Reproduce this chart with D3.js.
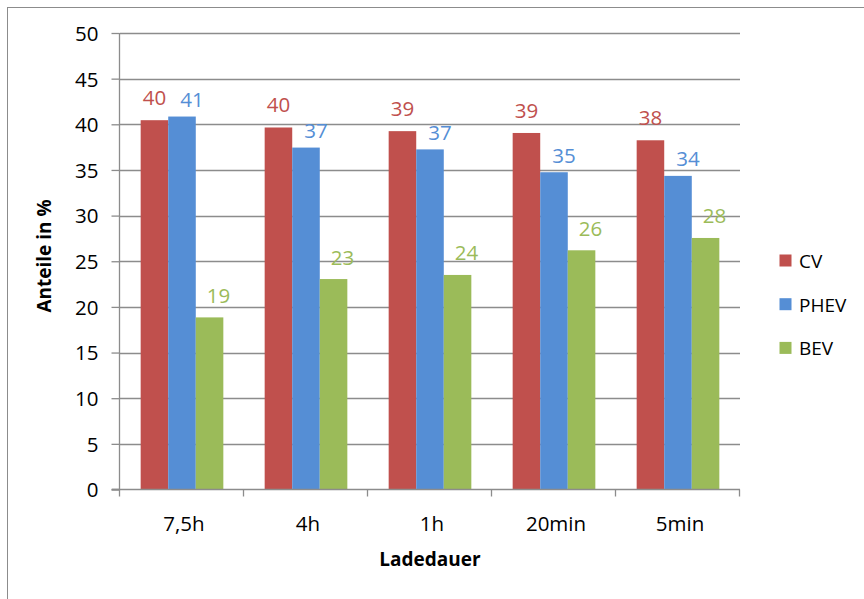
<!DOCTYPE html>
<html><head><meta charset="utf-8">
<script src="https://cdn.jsdelivr.net/npm/d3@7"></script>
<style>body{margin:0;background:#fff;} svg{display:block;font-family:"Open Sans",sans-serif;}</style>
</head><body>
<svg id="chart" width="864" height="599"></svg>
<script>
const categories = ["7,5h", "4h", "1h", "20min", "5min"];
const seriesNames = ["CV", "PHEV", "BEV"];
const cvValues   = [40.45, 39.65, 39.25, 39.05, 38.25];
const phevValues = [40.85, 37.45, 37.25, 34.75, 34.35];
const bevValues  = [18.85, 23.05, 23.5, 26.2, 27.55];
const yTicks = [0, 5, 10, 15, 20, 25, 30, 35, 40, 45, 50];
const colors = ["#C0504D", "#558ED5", "#9BBB59"];
const labelDx = [0, 10, 9];
const labelDy = [15, 9.5, 14.5];

const series = [cvValues, phevValues, bevValues];
const svg = d3.select("#chart");
const m = {left: 120, right: 740, top: 33, bottom: 489.5};

// outer frame
svg.append("rect").attr("x", 7.5).attr("y", 7.5).attr("width", 900).attr("height", 700)
  .attr("fill", "none").attr("stroke", "#8c8c8c").attr("stroke-width", 1);

const x = d3.scaleBand().domain(categories).range([m.left, m.right]).paddingInner(0).paddingOuter(0);
const y = d3.scaleLinear().domain([0, 50]).range([m.bottom, m.top]);

// gridlines
svg.append("g").selectAll("line").data(yTicks.filter(t => t > 0)).join("line")
  .attr("x1", m.left).attr("x2", m.right)
  .attr("y1", d => Math.round(y(d)) + 0.5).attr("y2", d => Math.round(y(d)) + 0.5)
  .attr("stroke", "#8c8c8c").attr("stroke-width", 1.3);

// bars
const bw = x.bandwidth() / 4.5;
const sub = d3.scaleBand().domain(d3.range(3)).range([0.75 * bw, 3.75 * bw]);
const groups = svg.append("g");
series.forEach((vals, si) => {
  groups.append("g").selectAll("rect").data(vals).join("rect")
    .attr("x", (d, i) => x(categories[i]) + sub(si))
    .attr("width", sub.bandwidth())
    .attr("y", d => y(d))
    .attr("height", d => y(0) - y(d))
    .attr("fill", colors[si]);
});

// data labels
series.forEach((vals, si) => {
  svg.append("g").selectAll("text").data(vals).join("text")
    .attr("x", (d, i) => x(categories[i]) + sub(si) + sub.bandwidth() / 2 + labelDx[si])
    .attr("y", d => y(d) - labelDy[si])
    .attr("text-anchor", "middle")
    .attr("font-size", 20.5)
    .attr("fill", colors[si])
    .text(d => Math.round(d));
});

// y axis
const yAxis = d3.axisLeft(y).tickValues(yTicks).tickSize(8).tickPadding(13);
const ya = svg.append("g").attr("transform", `translate(${m.left - 0.5},0)`).call(yAxis);
ya.select(".domain").attr("stroke", "#8c8c8c").attr("stroke-width", 1.3).attr("d", `M-8,${m.bottom}H0V${m.top}`);
ya.selectAll(".tick line").attr("stroke", "#8c8c8c").attr("stroke-width", 1.3);
ya.selectAll(".tick text").attr("font-size", 20.5).attr("font-family", "Open Sans").attr("fill", "#000").attr("dy", "0.36em");

// x axis
const xa = svg.append("g").attr("transform", `translate(0,${m.bottom})`);
xa.append("line").attr("x1", m.left - 8).attr("x2", m.right).attr("y1", 0).attr("y2", 0)
  .attr("stroke", "#8c8c8c").attr("stroke-width", 1.3);
const boundaries = categories.map(c => x(c)).concat([m.right]);
xa.selectAll("line.tk").data(boundaries).join("line").attr("class", "tk")
  .attr("x1", d => d - 0.5).attr("x2", d => d - 0.5).attr("y1", 0).attr("y2", 7)
  .attr("stroke", "#8c8c8c").attr("stroke-width", 1.3);
xa.selectAll("text").data(categories).join("text")
  .attr("x", d => x(d) + x.bandwidth() / 2 + 2).attr("y", 41)
  .attr("text-anchor", "middle").attr("font-size", 20.5).attr("fill", "#000").text(d => d);

// axis titles
svg.append("text").attr("x", (m.left + m.right) / 2).attr("y", 566)
  .attr("text-anchor", "middle").attr("font-size", 19).attr("font-weight", "bold").text("Ladedauer");
svg.append("text").attr("transform", "translate(51,256) rotate(-90)")
  .attr("text-anchor", "middle").attr("font-size", 19).attr("font-weight", "bold").text("Anteile in %");

// legend
const lg = svg.append("g");
seriesNames.forEach((n, i) => {
  const yy = 254.5 + i * 43.7;
  lg.append("rect").attr("x", 779.5).attr("y", yy).attr("width", 12).attr("height", 12).attr("fill", colors[i]);
  lg.append("text").attr("x", 799).attr("y", yy + 13.5).attr("font-size", 19).attr("fill", "#000").text(n);
});
</script>
</body></html>
